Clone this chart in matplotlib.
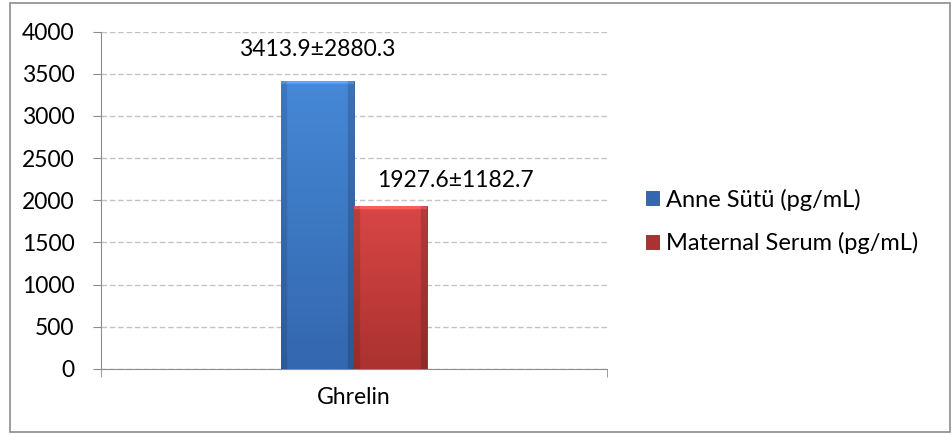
import matplotlib.pyplot as plt
import numpy as np
from matplotlib.colors import to_rgb
from matplotlib.patches import Rectangle

categories = ["Ghrelin"]
series_names = ["Anne Sütü (pg/mL)", "Maternal Serum (pg/mL)"]
series_values = [[3413.9], [1927.6]]
value_labels = [["3413.9±2880.3"], ["1927.6±1182.7"]]
y_ticks = [0, 500, 1000, 1500, 2000, 2500, 3000, 3500, 4000]

top_colors = ["#4688d6", "#d84646"]
bottom_colors = ["#3367ae", "#aa3230"]
edge_colors = ["#2c5a98", "#8e2a28"]
label_offsets = [(0, 15), (47, 11)]  # points, label placement like the original

plt.rcParams["font.family"] = ["Lato", "DejaVu Sans"]


def bevel_image(top, bottom, ny=200, nx=60, side=0.07, cap=0.04):
    # vertical gradient with darker sides and a light cap, like Excel's bevel
    t = np.linspace(0, 1, ny)[:, None]
    c0, c1 = np.array(to_rgb(top)), np.array(to_rgb(bottom))
    img = c0[None, None, :] * (1 - t[..., None]) + c1[None, None, :] * t[..., None]
    img = np.repeat(img, nx, axis=1)
    u = np.linspace(0, 1, nx)
    shade = np.ones(nx)
    shade[u < side] = 0.88
    shade[u > 1 - side] = 0.84
    img = img * shade[None, :, None]
    capn = max(2, int(ny * cap))
    img[:capn] = np.clip(img[:capn] * 1.12 + 0.05, 0, 1)
    return np.clip(img, 0, 1)


fig = plt.figure(figsize=(9.52, 4.34), dpi=100)
ax = fig.add_axes([0.106, 0.150, 0.532, 0.777])

fig.patches.append(Rectangle((10 / 952, 2 / 434), 940 / 952, 429 / 434,
                             transform=fig.transFigure, fill=False,
                             edgecolor="#8c8c8c", linewidth=1.2))

x = np.arange(len(categories))
width = 0.144
handles = []
for i, name in enumerate(series_names):
    offset = (i - 0.5) * width
    bars = ax.bar(x + offset, series_values[i], width=width,
                  color=bottom_colors[i], edgecolor=edge_colors[i],
                  linewidth=0.6, label=name, zorder=3)
    handles.append(bars)
    for bar in bars:
        x0, y0 = bar.get_x(), bar.get_y()
        w, h = bar.get_width(), bar.get_height()
        cap = 180 / h * 0.25
        im = ax.imshow(bevel_image(top_colors[i], bottom_colors[i], cap=cap),
                       extent=(x0, x0 + w, y0, y0 + h), aspect="auto",
                       zorder=3.5, interpolation="bilinear")
        im.set_clip_path(bar)
    for bar, lab in zip(bars, value_labels[i]):
        ax.annotate(lab, (bar.get_x() + bar.get_width() / 2, bar.get_height()),
                    xytext=label_offsets[i], textcoords="offset points",
                    ha="center", va="bottom", fontsize=16.5, color="black",
                    zorder=5)

ax.set_xlim(-0.5, 0.5)
ax.set_ylim(0, 4000)
ax.set_yticks(y_ticks)
ax.set_yticklabels([str(t) for t in y_ticks], fontsize=16.5)
ax.set_xticks(x)
ax.set_xticklabels(categories, fontsize=16.5)
ax.tick_params(axis="x", length=0, pad=13)
ax.set_xticks([-0.5, 0.5], minor=True)
ax.tick_params(axis="x", which="minor", length=6, color="#8c8c8c")
ax.tick_params(axis="y", length=6, color="#8c8c8c", pad=13)

ax.grid(axis="y", linestyle=(0, (4, 2)), color="#c4c4c4", linewidth=1, zorder=0)
ax.set_axisbelow(True)
for side in ["top", "right"]:
    ax.spines[side].set_visible(False)
for side in ["left", "bottom"]:
    ax.spines[side].set_color("#8c8c8c")

fig.legend(handles=handles, labels=series_names, loc="center left",
           bbox_to_anchor=(0.656, 0.49), frameon=False, fontsize=17,
           handlelength=0.55, handleheight=0.55, handletextpad=0.3,
           labelspacing=0.9)

fig.savefig("out.png", dpi=100)
